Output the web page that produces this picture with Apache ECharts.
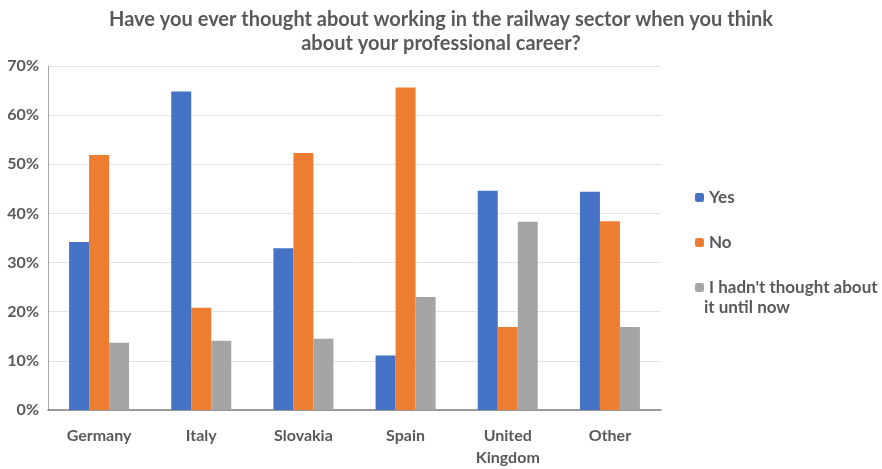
<!DOCTYPE html>
<html>
<head>
<meta charset="utf-8">
<script src="https://cdn.jsdelivr.net/npm/echarts@6/dist/echarts.min.js"></script>
<style>
  html, body { margin: 0; padding: 0; background: #fff; }
  #chart { width: 882px; height: 469px; }
</style>
</head>
<body>
<div id="chart"></div>
<script>
// survey answers per country (share of respondents, %)
var categories = ['Germany', 'Italy', 'Slovakia', 'Spain', 'United\nKingdom', 'Other']
var yesValues = [34.2, 64.8, 32.9, 11.1, 44.6, 44.4]
var noValues = [51.9, 20.8, 52.3, 65.6, 16.9, 38.4]
var notThoughtValues = [13.7, 14.1, 14.5, 23.0, 38.3, 16.9]
var seriesNames = ['Yes', 'No', "I hadn't thought about it until now"]
var yTicks = [0, 10, 20, 30, 40, 50, 60, 70]

var textGray = '#595959'
var fontFamily = 'Lato, "Open Sans", sans-serif'

var chart = echarts.init(document.getElementById('chart'))

function legendBlock(name, top) {
  return {
    orient: 'vertical',
    left: 690,
    top: top,
    itemWidth: 9,
    itemHeight: 9,
    itemGap: 0,
    data: [name],
    formatter: function (n) {
      // only first line here, the rest goes below as graphic text
      return n === seriesNames[2] ? "I hadn't thought about" : n
    },
    textStyle: { color: textGray, fontSize: 17, fontWeight: 'bold', fontFamily: fontFamily }
  }
}

var option = {
  backgroundColor: '#fff',
  animation: false,
  color: ['#4472C4', '#ED7D31', '#A5A5A5'],
  title: {
    text: 'Have you ever thought about working in the railway sector when you think\nabout your professional career?',
    left: 'center',
    top: 3,
    textStyle: {
      color: textGray,
      fontSize: 20,
      fontWeight: 'bold',
      fontFamily: fontFamily,
      lineHeight: 24
    }
  },
  legend: [
    legendBlock(seriesNames[0], 184),
    legendBlock(seriesNames[1], 229),
    legendBlock(seriesNames[2], 274)
  ],
  graphic: [{
    type: 'text',
    left: 704,
    top: 299,
    style: {
      text: 'it until now',
      fill: textGray,
      font: 'bold 17px ' + fontFamily
    }
  }],
  grid: { left: 48, right: 221, top: 66, bottom: 57 },
  xAxis: {
    type: 'category',
    data: categories,
    axisLine: { lineStyle: { color: '#7f7f7f', width: 1.5 } },
    axisTick: { show: false },
    axisLabel: {
      color: textGray,
      fontSize: 16,
      fontWeight: 'bold',
      fontFamily: fontFamily,
      lineHeight: 22,
      margin: 15
    }
  },
  yAxis: {
    type: 'value',
    min: 0,
    max: 70,
    interval: 10,
    axisLine: { show: true, lineStyle: { color: '#a6a6a6' } },
    axisTick: { show: false },
    splitLine: { lineStyle: { color: '#e3e3e3' } },
    axisLabel: {
      color: textGray,
      fontSize: 16,
      fontWeight: 'bold',
      fontFamily: fontFamily,
      margin: 9,
      formatter: function (v) { return yTicks.indexOf(v) >= 0 ? v + '%' : '' }
    }
  },
  series: [
    { name: seriesNames[0], type: 'bar', data: yesValues, barWidth: 20, barGap: '0%' },
    { name: seriesNames[1], type: 'bar', data: noValues, barWidth: 20, barGap: '0%' },
    { name: seriesNames[2], type: 'bar', data: notThoughtValues, barWidth: 20, barGap: '0%' }
  ]
}

chart.setOption(option)
</script>
</body>
</html>
